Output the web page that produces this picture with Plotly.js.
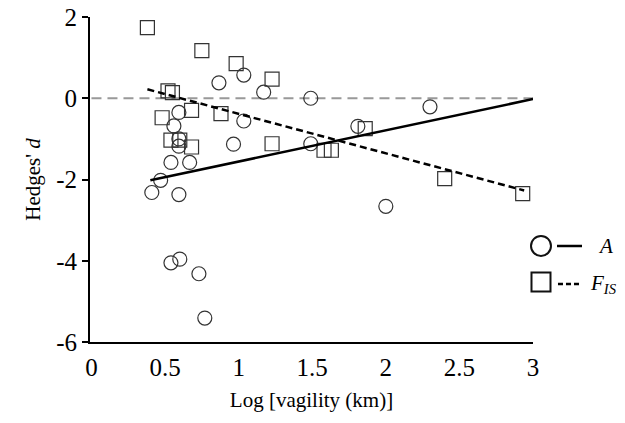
<!DOCTYPE html>
<html>
<head>
<meta charset="utf-8">
<script src="https://cdn.plot.ly/plotly-3.0.1.min.js"></script>
<style>html,body{margin:0;padding:0;background:#fff;}#chart{width:625px;height:423px;}</style>
</head>
<body>
<div id="chart"></div>
<script>
// A (allelic richness) effect sizes
const aX = [0.866, 1.035, 1.17, 1.49, 0.594, 0.56, 0.594, 0.594, 1.035, 0.965, 1.49, 0.54, 0.667, 0.47, 0.41, 0.594, 0.54, 0.60, 0.73, 0.77, 2.30, 1.81, 2.00];
const aY = [0.38, 0.57, 0.15, 0.00, -0.35, -0.68, -1.00, -1.18, -0.56, -1.13, -1.12, -1.58, -1.58, -2.02, -2.32, -2.37, -4.05, -3.96, -4.32, -5.41, -0.21, -0.69, -2.66];
// F_IS effect sizes
const fX = [0.38, 0.75, 0.983, 1.227, 0.52, 0.55, 0.68, 0.88, 0.48, 0.54, 0.60, 0.68, 1.227, 1.58, 1.63, 1.86, 2.40, 2.93];
const fY = [1.74, 1.17, 0.85, 0.47, 0.18, 0.14, -0.30, -0.38, -0.48, -1.03, -1.03, -1.20, -1.12, -1.28, -1.28, -0.75, -1.98, -2.35];
// Regression line endpoints
const aFitX = [0.40, 3.00];
const aFitY = [-2.02, -0.02];
const fFitX = [0.38, 2.94];
const fFitY = [0.22, -2.27];
// Reference line
const zeroX = [0, 3];
const zeroY = [0, 0];
const xTicks = [0, 0.5, 1, 1.5, 2, 2.5, 3];
const xTickText = ['0', '0.5', '1', '1.5', '2', '2.5', '3'];
const yTicks = [2, 0, -2, -4, -6];
const yTickText = ['2', '0', '-2', '-4', '-6'];

const serif = "'Liberation Serif', 'Times New Roman', serif";
const mk = {color: '#333', size: 14, line: {color: '#333', width: 1.2}};

const traces = [
  {x: zeroX, y: zeroY, mode: 'lines', line: {color: '#999', width: 2, dash: '10px,6px'}, hoverinfo: 'skip'},
  {x: aX, y: aY, mode: 'markers', marker: Object.assign({symbol: 'circle-open'}, mk)},
  {x: fX, y: fY, mode: 'markers', marker: Object.assign({symbol: 'square-open'}, mk)},
  {x: aFitX, y: aFitY, mode: 'lines', line: {color: '#000', width: 2.5}},
  {x: fFitX, y: fFitY, mode: 'lines', line: {color: '#000', width: 2.5, dash: '7px,4px'}}
];

const layout = {
  width: 625, height: 423,
  margin: {l: 90, r: 92, t: 17, b: 81},
  showlegend: false,
  paper_bgcolor: '#fff', plot_bgcolor: '#fff',
  font: {family: serif, color: '#000', size: 20},
  xaxis: {
    range: [-0.01, 3.0], tickvals: xTicks, ticktext: xTickText, ticks: '',
    showgrid: false, zeroline: false, showline: true, linecolor: '#000', linewidth: 2,
    ticklabelstandoff: 2,
    tickfont: {family: serif, size: 25, color: '#000'},
    title: {text: 'Log [vagility (km)]', font: {family: serif, size: 21}, standoff: 12}
  },
  yaxis: {
    range: [-6, 2], tickvals: yTicks, ticktext: yTickText, ticks: 'outside', ticklen: 6, tickwidth: 2, tickcolor: '#000',
    showgrid: false, zeroline: false, showline: true, linecolor: '#000', linewidth: 2,
    tickfont: {family: serif, size: 25, color: '#000'},
    title: {text: "Hedges' <i>d</i>", font: {family: serif, size: 21}, standoff: 10}
  },
  shapes: [
    {type: 'circle', xref: 'paper', yref: 'paper', x0: 0.9955, x1: 1.0406, y0: 0.2646, y1: 0.3262, line: {color: '#111', width: 2}},
    {type: 'line', xref: 'paper', yref: 'paper', x0: 1.0542, x1: 1.1106, y0: 0.2954, y1: 0.2954, line: {color: '#000', width: 2.5}},
    {type: 'rect', xref: 'paper', yref: 'paper', x0: 0.9966, x1: 1.0395, y0: 0.1554, y1: 0.2138, line: {color: '#111', width: 2}},
    {type: 'line', xref: 'paper', yref: 'paper', x0: 1.0564, x1: 1.106, y0: 0.1785, y1: 0.1785, line: {color: '#000', width: 2.5, dash: '5px,3px'}}
  ],
  annotations: [
    {xref: 'paper', yref: 'paper', x: 1.142, y: 0.2954, xanchor: 'left', yanchor: 'middle', showarrow: false, text: '<i>A</i>', font: {family: serif, size: 21}},
    {xref: 'paper', yref: 'paper', x: 1.124, y: 0.1785, xanchor: 'left', yanchor: 'middle', showarrow: false, text: '<i>F<sub>IS</sub></i>', font: {family: serif, size: 21}}
  ]
};

Plotly.newPlot('chart', traces, layout, {displayModeBar: false, staticPlot: true});
</script>
</body>
</html>
